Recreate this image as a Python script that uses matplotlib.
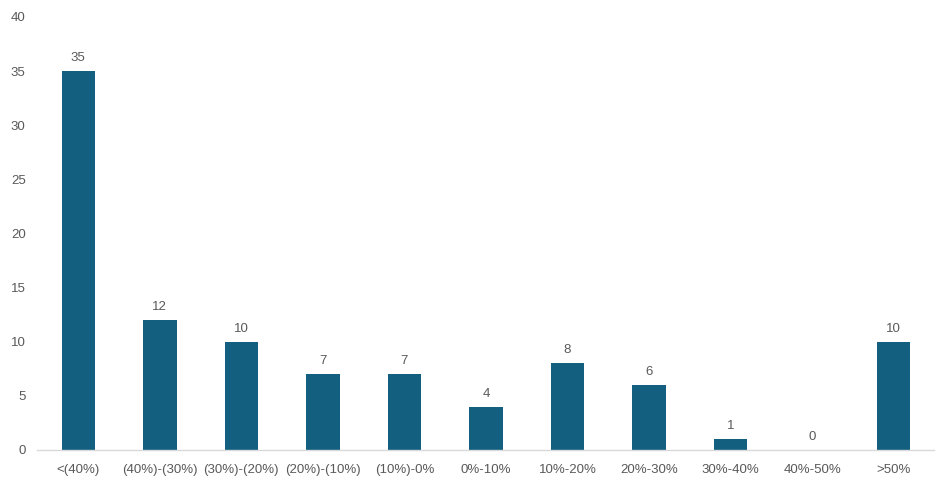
import matplotlib
matplotlib.use("Agg")
import matplotlib.pyplot as plt

categories = ["<(40%)", "(40%)-(30%)", "(30%)-(20%)", "(20%)-(10%)", "(10%)-0%",
              "0%-10%", "10%-20%", "20%-30%", "30%-40%", "40%-50%", ">50%"]
values = [35, 12, 10, 7, 7, 4, 8, 6, 1, 0, 10]

plt.rcParams['font.family'] = ['Liberation Sans', 'DejaVu Sans']
text_color = "#595959"
bar_color = "#135F80"

fig = plt.figure(figsize=(9.53, 4.87), dpi=100)
ax = fig.add_axes([37.5/953, 37/487, 897/953, 433/487])
x = list(range(len(categories)))
bars = ax.bar(x, values, width=0.41, color=bar_color)
for xi, v in zip(x, values):
    ax.text(xi, v + 0.65, str(v), ha="center", va="bottom", fontsize=9.5, color=text_color)

ax.set_xlim(-0.5, len(categories) - 0.5)
ax.set_ylim(0, 40)
ax.set_yticks(range(0, 41, 5))
ax.set_xticks(x)
ax.set_xticklabels(categories)
ax.tick_params(axis="both", length=0, labelsize=9.5, labelcolor=text_color)
ax.tick_params(axis="y", pad=8.5)
ax.tick_params(axis="x", pad=10)
for s in ["top", "right", "left"]:
    ax.spines[s].set_visible(False)
ax.spines["bottom"].set_color("#D9D9D9")
ax.spines["bottom"].set_linewidth(1)

fig.savefig("out.png", dpi=100)
